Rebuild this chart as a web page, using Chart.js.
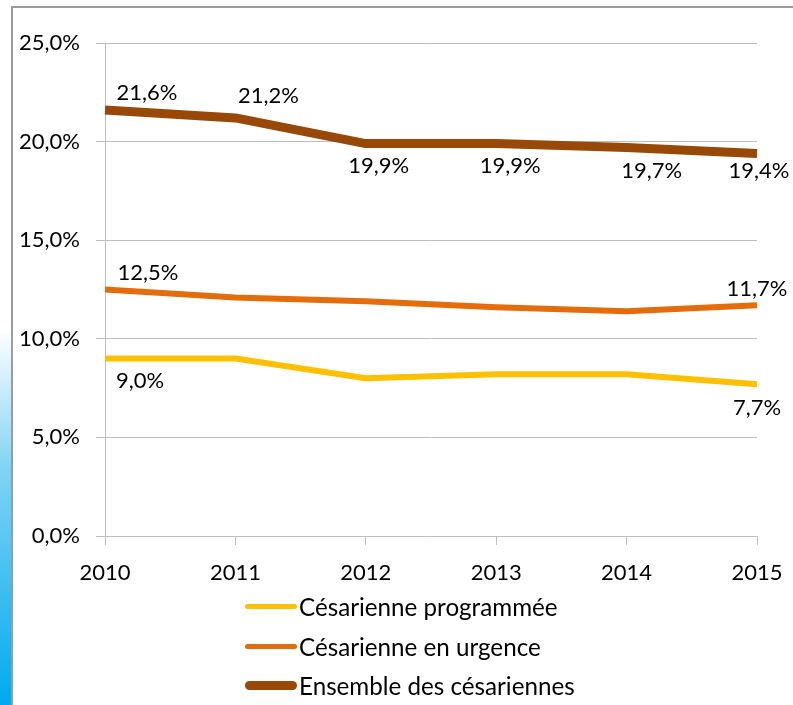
<!DOCTYPE html>
<html lang="fr">
<head>
<meta charset="utf-8">
<script src="https://cdn.jsdelivr.net/npm/chart.js@4"></script>
<style>
  html, body { margin: 0; padding: 0; background: #fff; }
  body { width: 793px; height: 705px; position: relative; overflow: hidden; font-family: Lato, "Open Sans", sans-serif; }
  #stripe { position: absolute; left: 0; top: 0; width: 11px; height: 705px;
    background: linear-gradient(to bottom, #fff 0px, #fff 330px, #7fd3f5 470px, #00a9ee 705px); }
  #frame { position: absolute; left: 11px; top: 6px; width: 790px; height: 710px;
    border-left: 2px solid #9c9c9c; border-top: 2px solid #9c9c9c; }
  #chart { position: absolute; left: 0; top: 0; }
  #legend { position: absolute; left: 245px; top: 587px; }
  .leg-row { display: flex; align-items: center; height: 39.5px; font-size: 24.2px; color: #000; }
  .leg-line { width: 52px; border-radius: 5px; margin-right: 2px; }
</style>
</head>
<body>
<div id="stripe"></div>
<div id="frame"></div>
<canvas id="chart" width="793" height="705"></canvas>
<div id="legend"></div>
<script>
/* ── Taux de césariennes 2010-2015 ── */

const years = ['2010', '2011', '2012', '2013', '2014', '2015'];
const programmee = [9.0, 9.0, 8.0, 8.2, 8.2, 7.7];
const urgence = [12.5, 12.1, 11.9, 11.6, 11.4, 11.7];
const ensemble = [21.6, 21.2, 19.9, 19.9, 19.7, 19.4];
const yTicks = [0, 5, 10, 15, 20, 25];

const fmt = v => v.toFixed(1).replace('.', ',') + '%';

// which points carry a value label, and where the label sits (px from the point)
const valueLabels = [
  { ds: 2, i: 0, dx: 42, dy: -17 }, { ds: 2, i: 1, dx: 33, dy: -22 },
  { ds: 2, i: 2, dx: 13, dy: 22 },  { ds: 2, i: 3, dx: 14, dy: 22 },
  { ds: 2, i: 4, dx: 25, dy: 23 },  { ds: 2, i: 5, dx: 2, dy: 17 },
  { ds: 1, i: 0, dx: 43, dy: -17 }, { ds: 1, i: 5, dx: 0, dy: -16 },
  { ds: 0, i: 0, dx: 35, dy: 22 },  { ds: 0, i: 5, dx: 0, dy: 24 },
];

const labelPlugin = {
  id: 'valueLabels',
  afterDatasetsDraw(chart) {
    const ctx = chart.ctx;
    ctx.save();
    ctx.font = '22px Lato, "Open Sans", sans-serif';
    ctx.fillStyle = '#000';
    ctx.textAlign = 'center';
    ctx.textBaseline = 'middle';
    valueLabels.forEach(l => {
      const pt = chart.getDatasetMeta(l.ds).data[l.i];
      const v = chart.data.datasets[l.ds].data[l.i];
      ctx.fillText(fmt(v), pt.x + l.dx, pt.y + l.dy);
    });
    ctx.restore();
  }
};

const gridGray = '#bfbfbf';

const chart = new Chart(document.getElementById('chart').getContext('2d'), {
  type: 'line',
  data: {
    labels: years,
    datasets: [
      { label: 'Césarienne programmée', data: programmee, borderColor: '#ffc000', borderWidth: 6 },
      { label: 'Césarienne en urgence', data: urgence, borderColor: '#e46c0a', borderWidth: 6 },
      { label: 'Ensemble des césariennes', data: ensemble, borderColor: '#984807', borderWidth: 9 },
    ].map(d => ({ ...d, tension: 0, pointRadius: 0, borderJoinStyle: 'round', borderCapStyle: 'butt', fill: false }))
  },
  options: {
    responsive: false,
    animation: false,
    layout: { padding: { left: 0, top: 43, right: 36, bottom: 119 } },
    plugins: { legend: { display: false }, tooltip: { enabled: false } },
    scales: {
      x: {
        offset: false,
        grid: { drawOnChartArea: false, drawTicks: true, tickLength: 9, color: gridGray },
        border: { color: gridGray, width: 1 },
        ticks: { color: '#000', font: { family: 'Lato', size: 22 }, padding: 15, maxRotation: 0 },
        afterFit: s => { s.height = 50; s.paddingLeft = 0; s.paddingRight = 0; }
      },
      y: {
        min: 0, max: 25,
        afterBuildTicks: s => { s.ticks = yTicks.map(v => ({ value: v })); },
        grid: { color: gridGray, lineWidth: 1, tickLength: 9 },
        border: { color: gridGray, width: 1 },
        ticks: { color: '#000', font: { family: 'Lato', size: 22 }, padding: 16, callback: v => fmt(v) },
        afterFit: s => { s.width = 105; s.paddingTop = 0; s.paddingBottom = 0; }
      }
    }
  },
  plugins: [labelPlugin]
});

// legend below the chart, one entry per row
document.getElementById('legend').innerHTML = chart.data.datasets.map(d => `
  <div class="leg-row">
    <div class="leg-line" style="background:${d.borderColor};height:${d.borderWidth === 9 ? 9 : 5}px"></div>
    <span>${d.label}</span>
  </div>`).join('');
</script>
</body>
</html>
